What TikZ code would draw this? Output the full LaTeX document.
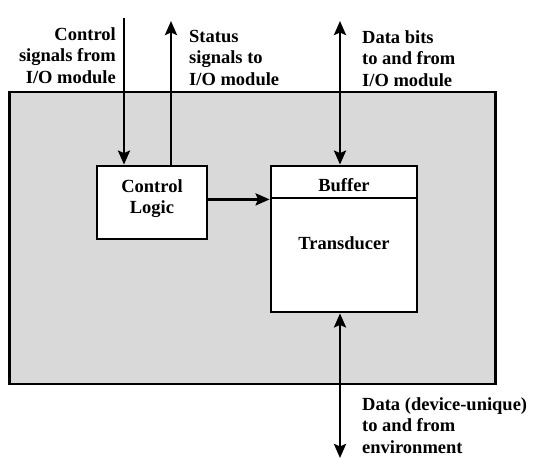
\documentclass[tikz,border=0pt]{standalone}
\usepackage{fontspec}
\setmainfont{Liberation Serif}
\usetikzlibrary{arrows.meta}
\begin{document}
\begin{tikzpicture}[x=1pt,y=-1pt,
  lbl/.style={font=\fontsize{18.5}{21.5}\selectfont\bfseries, inner sep=0pt},
  boxed/.style={draw, line width=2.8pt, fill=white, inner sep=0pt},
  conn/.style={line width=2.8pt, -{Stealth[length=14pt,width=12pt,inset=2.5pt]}},
  dconn/.style={line width=2.8pt, {Stealth[length=14pt,width=12pt,inset=2.5pt]}-{Stealth[length=14pt,width=12pt,inset=2.5pt]}}]
\useasboundingbox (0,0) rectangle (539,465);
% outer device box
\node[draw, line width=2.8pt, fill={rgb,255:red,217;green,217;blue,217}, minimum width=486pt, minimum height=292pt, inner sep=0pt] (dev) at (252.5,238) {};
% control logic
\node[boxed, minimum width=110pt, minimum height=73pt] (cl) at (152,202.5) {};
\node[lbl, align=center, anchor=north] (cltext) at (152,179) {Control\\Logic};
% buffer and transducer
\node[boxed, minimum width=146pt, minimum height=32pt] (buf) at (344,182) {};
\node[boxed, minimum width=146pt, minimum height=114pt] (tr) at (344,255) {};
\node[lbl, anchor=base] (buftext) at (344,192) {Buffer};
\node[lbl, anchor=base] (trtext) at (344,250) {Transducer};
% free ends
\coordinate (cin) at (124,18);
\coordinate (sout) at (171,21);
\coordinate (dtop) at (340,21);
\coordinate (dbot) at (340,458);
% connectors
\draw[conn] (cin) -- (cin |- cl.north);
\draw[conn] (sout |- cl.north) -- (sout);
\draw[conn] (cl.east |- buf.south) -- (buf.south west);
\draw[dconn] (dtop) -- (dtop |- buf.north);
\draw[dconn] (dbot |- tr.south) -- (dbot);
% labels
\node[lbl, align=right, anchor=north east] (l1) at (116,27) {Control\\signals from\\I/O module};
\node[lbl, align=left, anchor=north west] (l2) at (189,30) {Status\\signals to\\I/O module};
\node[lbl, align=left, anchor=north west] (l3) at (362,30) {Data bits\\to and from\\I/O module};
\node[lbl, align=left, anchor=north west] (l4) at (362,397) {Data (device-unique)\\to and from\\environment};
\end{tikzpicture}
\end{document}
